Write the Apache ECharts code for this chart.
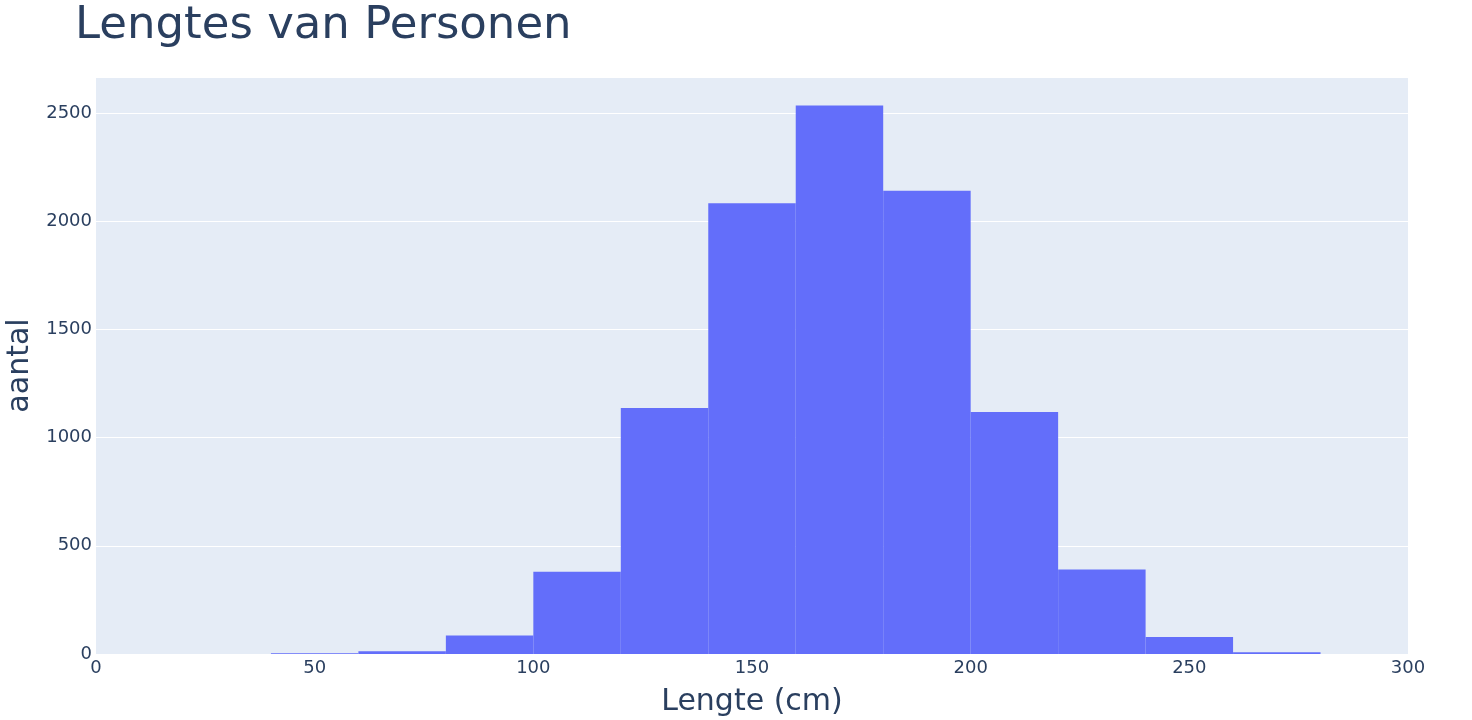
<!DOCTYPE html>
<html><head><meta charset="utf-8">
<script src="https://cdn.jsdelivr.net/npm/echarts@6/dist/echarts.min.js"></script>
<style>html,body{margin:0;padding:0;background:#fff}#c{width:1472px;height:720px}</style>
</head><body><div id="c"></div>
<script>
const binStarts = [40, 60, 80, 100, 120, 140, 160, 180, 200, 220, 240, 260];
const binWidth = 20;
const counts = [3, 13, 86, 380, 1137, 2083, 2534, 2141, 1118, 390, 79, 8];
const xTicks = [0, 50, 100, 150, 200, 250, 300];
const yTicks = [0, 500, 1000, 1500, 2000, 2500];

const data = binStarts.map((s, i) => [s, s + binWidth, counts[i]]);
const font = '"DejaVu Sans", Verdana, sans-serif';
const chart = echarts.init(document.getElementById('c'));
chart.setOption({
  backgroundColor: '#fff',
  animation: false,
  title: {
    text: 'Lengtes van Personen', left: 70, top: -1,
    textStyle: { fontFamily: font, fontSize: 45, fontWeight: 'normal', color: '#2a3f5f' }
  },
  grid: { left: 96, right: 64, top: 77, bottom: 66, show: true, backgroundColor: '#E5ECF6', borderWidth: 0,
          containLabel: false, outerBoundsMode: 'none' },
  xAxis: {
    type: 'value', min: 0, max: 300, interval: 50,
    name: 'Lengte (cm)', nameLocation: 'middle', nameGap: 33,
    nameTextStyle: { fontFamily: font, fontSize: 30, color: '#2a3f5f' },
    axisLine: { show: false }, axisTick: { show: false }, splitLine: { show: false },
    axisLabel: { fontFamily: font, fontSize: 18, color: '#2a3f5f', margin: 5,
      formatter: v => xTicks.includes(v) ? String(v) : '' }
  },
  yAxis: {
    type: 'value', min: 0, max: 2666, interval: 500,
    name: 'aantal', nameLocation: 'middle', nameGap: 61,
    nameTextStyle: { fontFamily: font, fontSize: 30, color: '#2a3f5f' },
    axisLine: { show: false }, axisTick: { show: false },
    splitLine: { lineStyle: { color: '#ffffff', width: 1 } },
    axisLabel: { fontFamily: font, fontSize: 18, color: '#2a3f5f', margin: 4, showMaxLabel: false,
      formatter: v => yTicks.includes(v) ? String(v) : '' }
  },
  series: [{
    type: 'custom',
    data: data,
    encode: { x: [0, 1], y: 2 },
    renderItem: function (params, api) {
      const p0 = api.coord([api.value(0), api.value(2)]);
      const p1 = api.coord([api.value(1), 0]);
      return {
        type: 'rect',
        shape: { x: p0[0], y: p0[1], width: p1[0] - p0[0], height: p1[1] - p0[1] },
        style: { fill: '#636efa' }
      };
    }
  }]
});
</script></body></html>
